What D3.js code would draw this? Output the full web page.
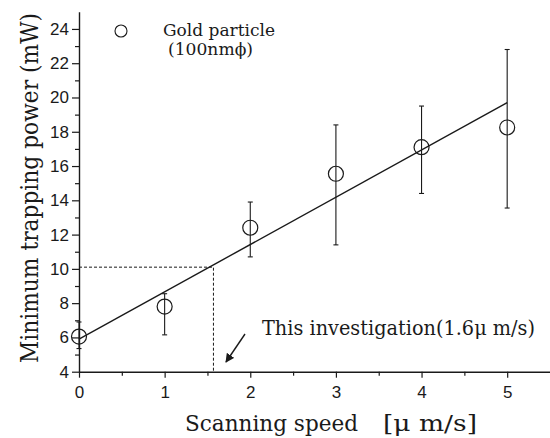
<!DOCTYPE html>
<html>
<head>
<meta charset="utf-8">
<script src="https://cdn.jsdelivr.net/npm/d3@7"></script>
<style>
  html, body { margin: 0; padding: 0; background: #fff; }
  svg { display: block; }
  .tick text { font-family: "Liberation Sans", Arial, sans-serif; }
  .serif { font-family: "DejaVu Serif", "Liberation Serif", serif; }
</style>
</head>
<body>
<svg id="chart" width="550" height="438"></svg>
<script>
// data
const speeds = [0, 1, 2, 3, 4, 5];
const powers = [6.05, 7.8, 12.4, 15.55, 17.1, 18.25];
const errLow = [5.35, 6.15, 10.7, 11.4, 14.4, 13.55];
const errHigh = [6.9, 8.55, 13.9, 18.4, 19.5, 22.8];
const fitLine = [[0, 5.9], [5, 19.7]];
const marked = { speed: 1.57, power: 10.1 };
const xTicks = [0, 1, 2, 3, 4, 5];
const yTicks = [4, 6, 8, 10, 12, 14, 16, 18, 20, 22, 24];

const svg = d3.select("#chart");
const ink = "#1a1a1a";

const x = d3.scaleLinear().domain([0, 5.5]).range([79, 550]);
const y = d3.scaleLinear().domain([4, 25]).range([371.7, 11.8]);

// axes
const yMinor = d3.range(5, 25, 2);
const xMinor = d3.range(0.5, 5.5, 1);

svg.append("g")
  .attr("transform", `translate(${x(0)},0)`)
  .call(d3.axisLeft(y).tickValues(yMinor).tickSize(4).tickFormat(""))
  .call((g) => g.select(".domain").remove())
  .call((g) => g.selectAll("line").attr("stroke", ink).attr("stroke-width", 1.2));

const yAxis = svg.append("g")
  .attr("transform", `translate(${x(0)},0)`)
  .call(d3.axisLeft(y).tickValues(yTicks).tickFormat(d3.format("d")).tickSize(7).tickSizeOuter(0).tickPadding(3));
yAxis.select(".domain").attr("stroke", ink).attr("stroke-width", 1.4);
yAxis.selectAll("line").attr("stroke", ink).attr("stroke-width", 1.2);
yAxis.selectAll("text").attr("font-size", 17).attr("fill", ink);

svg.append("g")
  .attr("transform", `translate(0,${y(4)})`)
  .call(d3.axisBottom(x).tickValues(xMinor).tickSize(4).tickFormat(""))
  .call((g) => g.select(".domain").remove())
  .call((g) => g.selectAll("line").attr("stroke", ink).attr("stroke-width", 1.2));

const xAxis = svg.append("g")
  .attr("transform", `translate(0,${y(4)})`)
  .call(d3.axisBottom(x).tickValues(xTicks).tickFormat(d3.format("d")).tickSize(6).tickSizeOuter(0).tickPadding(8));
xAxis.select(".domain").attr("stroke", ink).attr("stroke-width", 1.4);
xAxis.selectAll("line").attr("stroke", ink).attr("stroke-width", 1.2);
xAxis.selectAll("text").attr("font-size", 17).attr("fill", ink);

// dashed guide for this investigation
svg.append("path")
  .attr("d", `M${x(0)},${y(marked.power)}H${x(marked.speed)}V${y(4)}`)
  .attr("fill", "none")
  .attr("stroke", ink)
  .attr("stroke-width", 1)
  .attr("stroke-dasharray", "3,2");

// fitted line
svg.append("path")
  .datum(fitLine)
  .attr("d", d3.line().x((d) => x(d[0])).y((d) => y(d[1])))
  .attr("fill", "none")
  .attr("stroke", ink)
  .attr("stroke-width", 1.4);

// error bars
const bars = svg.append("g").selectAll("g")
  .data(speeds.map((s, i) => ({ s, lo: errLow[i], hi: errHigh[i] })))
  .join("g");
bars.append("line")
  .attr("x1", (d) => x(d.s)).attr("x2", (d) => x(d.s))
  .attr("y1", (d) => y(d.lo)).attr("y2", (d) => y(d.hi))
  .attr("stroke", ink).attr("stroke-width", 1.1);
bars.selectAll("line.cap")
  .data((d) => [d.lo, d.hi].map((v) => ({ s: d.s, v })))
  .join("line")
  .attr("class", "cap")
  .attr("x1", (d) => x(d.s) - 2.5).attr("x2", (d) => x(d.s) + 2.5)
  .attr("y1", (d) => y(d.v)).attr("y2", (d) => y(d.v))
  .attr("stroke", ink).attr("stroke-width", 1.1);

// points
svg.append("g").selectAll("circle")
  .data(speeds.map((s, i) => ({ s, p: powers[i] })))
  .join("circle")
  .attr("cx", (d) => x(d.s))
  .attr("cy", (d) => y(d.p))
  .attr("r", 7.5)
  .attr("fill", "none")
  .attr("stroke", ink)
  .attr("stroke-width", 1.2);

// legend
svg.append("circle")
  .attr("cx", 121).attr("cy", 31).attr("r", 6)
  .attr("fill", "none").attr("stroke", ink).attr("stroke-width", 1.1);
svg.append("text")
  .attr("class", "serif")
  .attr("x", 163).attr("y", 36)
  .attr("font-size", 16).attr("fill", ink)
  .attr("textLength", 112).attr("lengthAdjust", "spacingAndGlyphs")
  .text("Gold particle");
svg.append("text")
  .attr("class", "serif")
  .attr("x", 168).attr("y", 55)
  .attr("font-size", 16).attr("fill", ink)
  .attr("textLength", 85).attr("lengthAdjust", "spacingAndGlyphs")
  .text("(100nm\u03d5)");

// annotation
svg.append("defs").append("marker")
  .attr("id", "arrow")
  .attr("viewBox", "0 0 10 10")
  .attr("refX", 9).attr("refY", 5)
  .attr("markerWidth", 9).attr("markerHeight", 9)
  .attr("markerUnits", "userSpaceOnUse")
  .attr("orient", "auto")
  .append("path")
  .attr("d", "M0,0L10,5L0,10Z")
  .attr("fill", ink);
svg.append("line")
  .attr("x1", 245).attr("y1", 334)
  .attr("x2", 226).attr("y2", 362)
  .attr("stroke", ink).attr("stroke-width", 1.4)
  .attr("marker-end", "url(#arrow)");
svg.append("text")
  .attr("class", "serif")
  .attr("x", 262).attr("y", 335)
  .attr("font-size", 20).attr("fill", ink)
  .attr("textLength", 273).attr("lengthAdjust", "spacingAndGlyphs")
  .text("This investigation(1.6\u03bc m/s)");

// axis titles
svg.append("text")
  .attr("class", "serif")
  .attr("transform", "translate(38,188) rotate(-90)")
  .attr("text-anchor", "middle")
  .attr("font-size", 24).attr("fill", ink)
  .attr("textLength", 350).attr("lengthAdjust", "spacingAndGlyphs")
  .text("Minimum trapping power (mW)");
svg.append("text")
  .attr("class", "serif")
  .attr("x", 185).attr("y", 431)
  .attr("font-size", 23).attr("fill", ink)
  .attr("textLength", 173).attr("lengthAdjust", "spacingAndGlyphs")
  .text("Scanning speed");
svg.append("text")
  .attr("class", "serif")
  .attr("x", 383).attr("y", 431)
  .attr("font-size", 23).attr("fill", ink)
  .attr("textLength", 94).attr("lengthAdjust", "spacingAndGlyphs")
  .text("[\u03bc m/s]");
</script>
</body>
</html>
